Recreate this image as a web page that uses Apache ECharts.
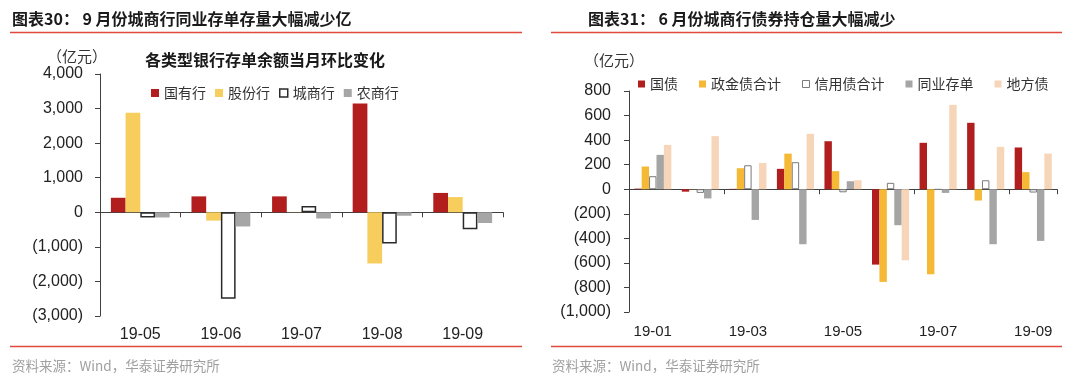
<!DOCTYPE html>
<html>
<head>
<meta charset="utf-8">
<script src="https://cdn.jsdelivr.net/npm/echarts@6/dist/echarts.min.js"></script>
<style>
html,body{margin:0;padding:0;background:#fff;}
#c{width:1080px;height:379px;}
</style>
</head>
<body>
<div id="c"></div>
<script>
// ---- Left chart data ----
const leftCategories = ['19-05', '19-06', '19-07', '19-08', '19-09'];
const leftNames = ['国有行', '股份行', '城商行', '农商行'];
const leftGuoyou = [420, 460, 460, 3150, 560];
const leftGufen = [2880, -240, 5, -1480, 440];
const leftChengshang = [-150, -2500, 180, -900, -490];
const leftNongshang = [-150, -410, -180, -100, -310];
const leftYTicks = { min: -3000, max: 4000, interval: 1000 };

// ---- Right chart data ----
const rightCategories = ['19-01', '19-02', '19-03', '19-04', '19-05', '19-06', '19-07', '19-08', '19-09'];
const rightNames = ['国债', '政金债合计', '信用债合计', '同业存单', '地方债'];
const rightGuozhai = [5, -20, 3, 166, 391, -614, 378, 541, 340];
const rightZhengjin = [185, 2, 171, 290, 147, -755, -693, -92, 139];
const rightXinyong = [106, -30, 195, 220, -25, 52, -3, 73, -27];
const rightTongye = [280, -75, -250, -448, 65, -293, -30, -448, -421];
const rightDifang = [361, 432, 214, 451, 73, -579, 687, 345, 291];
const rightYTicks = { min: -1000, max: 800, interval: 200 };

const titleLeft = '图表30： 9 月份城商行同业存单存量大幅减少亿';
const titleRight = '图表31： 6 月份城商行债券持仓量大幅减少';
const subtitleLeft = '各类型银行存单余额当月环比变化';
const unitText = '（亿元）';
const sourceText = '资料来源：Wind，华泰证券研究所';

const CJK = '"Noto Sans CJK SC", "Liberation Sans", sans-serif';
const NUM = '"Liberation Sans", Arial, sans-serif';

function fmt(v) {
  const s = Math.abs(v).toLocaleString('en-US');
  return v < 0 ? '(' + s + ')' : s;
}

const leftColors = ['#B21E1E', '#F7CD5E', '#FFFFFF', '#A6A6A6'];
const rightColors = ['#B01E1E', '#F5B935', '#FFFFFF', '#A5A5A5', '#F6D5B8'];

const chart = echarts.init(document.getElementById('c'), null, { renderer: 'canvas' });

const leftData = [leftGuoyou, leftGufen, leftChengshang, leftNongshang];
const rightData = [rightGuozhai, rightZhengjin, rightXinyong, rightTongye, rightDifang];

const series = [];
leftNames.forEach((n, i) => {
  series.push({
    name: n, type: 'bar', xAxisIndex: 0, yAxisIndex: 0,
    data: leftData[i], barGap: 0, barCategoryGap: '27%',
    itemStyle: i === 2 ? { color: '#FFFFFF', borderColor: '#2a2a2a', borderWidth: 1.5 } : { color: leftColors[i] },
    emphasis: { disabled: true }, animation: false
  });
});
rightNames.forEach((n, i) => {
  series.push({
    name: n, type: 'bar', xAxisIndex: 2, yAxisIndex: 1,
    data: rightData[i], barGap: 0, barCategoryGap: '22%',
    itemStyle: i === 2 ? { color: '#FFFFFF', borderColor: '#7a7a7a', borderWidth: 1 } : { color: rightColors[i] },
    emphasis: { disabled: true }, animation: false
  });
});

const axisLineStyle = { color: '#404040', width: 1 };

const option = {
  animation: false,
  backgroundColor: '#ffffff',
  grid: [
    { left: 100, top: 74, width: 403, height: 242 },
    { left: 629, top: 91, width: 428, height: 221 }
  ],
  legend: [
    {
      data: leftNames.map((n, i) => i === 2
        ? { name: n, itemStyle: { color: '#fff', borderColor: '#2a2a2a', borderWidth: 1.5 } }
        : { name: n }),
      left: 146, top: 81, icon: 'rect', itemWidth: 8, itemHeight: 8, itemGap: 9,
      textStyle: { fontFamily: CJK, fontSize: 14, color: '#333' }
    },
    {
      data: rightNames.map((n, i) => i === 2
        ? { name: n, itemStyle: { color: '#fff', borderColor: '#7a7a7a', borderWidth: 1 } }
        : { name: n }),
      left: 633, top: 72, icon: 'rect', itemWidth: 7, itemHeight: 7, itemGap: 21,
      textStyle: { fontFamily: CJK, fontSize: 14, color: '#333' }
    }
  ],
  xAxis: [
    { // left zero axis with ticks
      type: 'category', gridIndex: 0, data: leftCategories,
      axisLine: { onZero: true, lineStyle: axisLineStyle },
      axisTick: { show: true, length: 5, lineStyle: axisLineStyle },
      axisLabel: { show: false }, splitLine: { show: false }
    },
    { // left bottom label axis
      type: 'category', gridIndex: 0, data: leftCategories, position: 'bottom',
      axisLine: { show: false, onZero: false }, axisTick: { show: false },
      axisLabel: { fontFamily: NUM, fontSize: 16, color: '#222', margin: 11 }
    },
    { // right zero axis with ticks
      type: 'category', gridIndex: 1, data: rightCategories,
      axisLine: { onZero: true, lineStyle: axisLineStyle },
      axisTick: { show: true, length: 5, interval: 1, lineStyle: axisLineStyle },
      axisLabel: { show: false, interval: 1 }, splitLine: { show: false }
    },
    { // right bottom label axis
      type: 'category', gridIndex: 1, data: rightCategories, position: 'bottom',
      axisLine: { show: false, onZero: false }, axisTick: { show: false },
      axisLabel: { interval: 1, fontFamily: NUM, fontSize: 15, color: '#222', margin: 12 }
    }
  ],
  yAxis: [
    {
      type: 'value', gridIndex: 0, min: leftYTicks.min, max: leftYTicks.max, interval: leftYTicks.interval,
      axisLine: { show: true, lineStyle: axisLineStyle },
      axisTick: { show: true, length: 5, lineStyle: axisLineStyle },
      splitLine: { show: false },
      axisLabel: { formatter: fmt, fontFamily: NUM, fontSize: 16, color: '#222', margin: 17 }
    },
    {
      type: 'value', gridIndex: 1, min: rightYTicks.min, max: rightYTicks.max, interval: rightYTicks.interval,
      axisLine: { show: true, lineStyle: axisLineStyle },
      axisTick: { show: true, length: 5, lineStyle: axisLineStyle },
      splitLine: { show: false },
      axisLabel: { formatter: fmt, fontFamily: NUM, fontSize: 16, color: '#222', margin: 18 }
    }
  ],
  graphic: [
    { type: 'text', left: 12, top: 11, style: { text: titleLeft, font: 'bold 16px ' + CJK, fill: '#1a1a1a' } },
    { type: 'text', left: 588, top: 11, style: { text: titleRight, font: 'bold 16px ' + CJK, fill: '#1a1a1a' } },
    { type: 'line', shape: { x1: 10, y1: 32.5, x2: 522, y2: 32.5 }, style: { stroke: '#E04A3C', lineWidth: 1.5 } },
    { type: 'line', shape: { x1: 551, y1: 32.5, x2: 1062, y2: 32.5 }, style: { stroke: '#E04A3C', lineWidth: 1.5 } },
    { type: 'line', shape: { x1: 10, y1: 346.5, x2: 522, y2: 346.5 }, style: { stroke: '#E04A3C', lineWidth: 1.5 } },
    { type: 'line', shape: { x1: 551, y1: 346.5, x2: 1062, y2: 346.5 }, style: { stroke: '#E04A3C', lineWidth: 1.5 } },
    { type: 'text', left: 47, top: 49, style: { text: unitText, font: '15px ' + CJK, fill: '#333' } },
    { type: 'text', left: 584, top: 53, style: { text: unitText, font: '15px ' + CJK, fill: '#333' } },
    { type: 'text', left: 145, top: 52, style: { text: subtitleLeft, font: 'bold 16px ' + CJK, fill: '#1a1a1a' } },
    { type: 'text', left: 12, top: 359, style: { text: sourceText, font: '13.5px ' + CJK, fill: '#a0a0a0' } },
    { type: 'text', left: 552, top: 359, style: { text: sourceText, font: '13.5px ' + CJK, fill: '#a0a0a0' } }
  ],
  series: series
};

chart.setOption(option);
</script>
</body>
</html>
